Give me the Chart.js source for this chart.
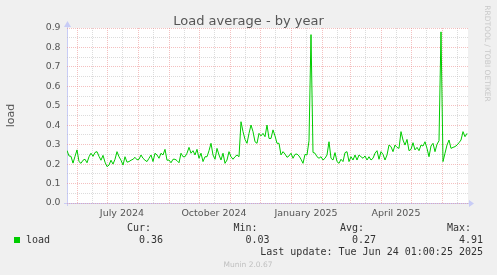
<!DOCTYPE html>
<html>
<head>
<meta charset="utf-8">
<script src="https://cdn.jsdelivr.net/npm/chart.js@4"></script>
<style>
  html, body { margin: 0; padding: 0; background: #f0f0f0; }
  canvas { display: block; }
</style>
</head>
<body>
<canvas id="load-year" width="497" height="275"></canvas>
<script>
const chartTitle = 'Load average - by year'
const yLabel = 'load'
const seriesName = 'load'
const startDate = '2024-05-22'
const sampleStep = 2   // days between samples
const xMaxDays = 401

// load average, one value every 2 days from startDate
const loadValues = [
  0.27, 0.242, 0.24, 0.205, 0.24, 0.273, 0.213, 0.204, 0.22, 0.225,
  0.207, 0.238, 0.256, 0.24, 0.26, 0.264, 0.24, 0.22, 0.245, 0.21,
  0.187, 0.195, 0.22, 0.2, 0.225, 0.264, 0.238, 0.22, 0.195, 0.238,
  0.21, 0.213, 0.22, 0.225, 0.235, 0.222, 0.225, 0.247, 0.23, 0.22,
  0.213, 0.23, 0.247, 0.213, 0.256, 0.247, 0.23, 0.256, 0.247, 0.276,
  0.22,
  0.221, 0.207, 0.225, 0.225, 0.218, 0.207, 0.256, 0.238, 0.238, 0.256,
  0.286, 0.256, 0.269, 0.247, 0.276, 0.23, 0.256, 0.213, 0.238, 0.238,
  0.269, 0.307, 0.247, 0.225, 0.281, 0.247, 0.221, 0.256, 0.204, 0.221,
  0.264, 0.238, 0.225, 0.238, 0.247, 0.238, 0.418, 0.367, 0.327, 0.307,
  0.358, 0.401, 0.367, 0.315, 0.307, 0.358, 0.345, 0.358, 0.341, 0.401,
  0.332,
  0.332, 0.376, 0.345, 0.307, 0.307, 0.247, 0.264, 0.252, 0.235, 0.242,
  0.256, 0.23, 0.25, 0.252, 0.242, 0.225, 0.204, 0.25, 0.247, 0.32,
  0.866, 0.26, 0.256, 0.238, 0.23, 0.238, 0.221, 0.23, 0.247, 0.315,
  0.23, 0.221, 0.259, 0.213, 0.204, 0.225, 0.213, 0.259, 0.264, 0.213,
  0.238, 0.221, 0.247, 0.221, 0.247, 0.238, 0.23, 0.242, 0.221, 0.238,
  0.221,
  0.23, 0.256, 0.269, 0.225, 0.264, 0.25, 0.221, 0.247, 0.298, 0.29,
  0.264, 0.298, 0.286, 0.281, 0.367, 0.324, 0.298, 0.327, 0.269, 0.276,
  0.31, 0.273, 0.286, 0.269, 0.298, 0.293, 0.315, 0.281, 0.238, 0.293,
  0.307, 0.264, 0.302, 0.32, 0.88, 0.213, 0.256, 0.298, 0.324, 0.281,
  0.286, 0.29, 0.298, 0.31, 0.324, 0.367, 0.341, 0.358
]

const yMin = 0
const yMax = 0.9
const yStep = 0.05

const labelDates = ['2024-07-16', '2024-10-16', '2025-01-16', '2025-04-16']
const labelTexts = ['July 2024', 'October 2024', 'January 2025', 'April 2025']

const statHeads = ['Cur:', 'Min:', 'Avg:', 'Max:']
const statValues = [0.36, 0.03, 0.27, 4.91]
const lastUpdate = 'Last update: Tue Jun 24 01:00:25 2025'
const footer = 'Munin 2.0.67'
const watermark = 'RRDTOOL / TOBI OETIKER'

const lineColor = '#00cc00'
const majorGrid = 'rgba(235, 140, 140, 0.55)'
const minorGrid = 'rgba(185, 185, 185, 0.5)'

function dayOf(d) {
    return (Date.parse(d) - Date.parse(startDate)) / 86400000
}

// month starts are the red lines, the 16th the grey ones
const xTicks = []
for (let m = 0; m < 14; m++) {
    const y = 2024 + Math.floor((4 + m) / 12)
    const mo = (4 + m) % 12
    const first = new Date(Date.UTC(y, mo, 1)).toISOString().slice(0, 10)
    const mid = new Date(Date.UTC(y, mo, 16)).toISOString().slice(0, 10)
    ;[[first, true], [mid, false]].forEach(([iso, major]) => {
        const v = dayOf(iso)
        if (v <= 0 || v >= xMaxDays) return
        const li = labelDates.indexOf(iso)
        xTicks.push({ value: v, major, label: li >= 0 ? labelTexts[li] : '' })
    })
}

const points = loadValues.map((v, i) => ({ x: i * sampleStep, y: v }))

const muninDeco = {
    id: 'muninDeco',
    beforeDraw(chart) {
        const { ctx, chartArea: a } = chart
        ctx.save()
        ctx.fillStyle = '#f0f0f0'
        ctx.fillRect(0, 0, chart.width, chart.height)
        ctx.fillStyle = '#ffffff'
        ctx.fillRect(a.left, a.top, a.right - a.left, a.bottom - a.top)

        // axes with arrow heads
        ctx.strokeStyle = '#c8ccf6'
        ctx.lineWidth = 1
        ctx.beginPath()
        ctx.moveTo(a.left - 3, a.bottom + 0.5)
        ctx.lineTo(a.right + 2, a.bottom + 0.5)
        ctx.moveTo(a.left + 0.5, a.bottom + 3)
        ctx.lineTo(a.left + 0.5, a.top - 2)
        ctx.stroke()
        ctx.fillStyle = '#c8ccf6'
        ctx.beginPath()
        ctx.moveTo(a.right + 1, a.bottom - 3)
        ctx.lineTo(a.right + 6, a.bottom + 0.5)
        ctx.lineTo(a.right + 1, a.bottom + 4)
        ctx.fill()
        ctx.beginPath()
        ctx.moveTo(a.left - 3, a.top - 1)
        ctx.lineTo(a.left + 0.5, a.top - 7)
        ctx.lineTo(a.left + 4, a.top - 1)
        ctx.fill()
        ctx.restore()
    },
    afterDraw(chart) {
        const { ctx, chartArea: a } = chart
        ctx.save()
        ctx.fillStyle = '#555'
        ctx.font = '13px "DejaVu Sans"'
        ctx.textAlign = 'center'
        ctx.textBaseline = 'alphabetic'
        ctx.fillText(chartTitle, chart.width / 2, 25)

        // y axis title
        ctx.save()
        ctx.font = '11px "DejaVu Sans"'
        ctx.translate(14, (a.top + a.bottom) / 2)
        ctx.rotate(-Math.PI / 2)
        ctx.fillText(yLabel, 0, 0)
        ctx.restore()

        // watermark on the right
        ctx.save()
        ctx.fillStyle = '#c8c8c8'
        ctx.font = '7.5px "DejaVu Sans"'
        ctx.translate(485, 53.5)
        ctx.rotate(Math.PI / 2)
        ctx.fillText(watermark, 0, 0)
        ctx.restore()

        // legend
        ctx.fillStyle = lineColor
        ctx.fillRect(14, 237, 6, 6)
        ctx.font = '10px "DejaVu Sans Mono"'
        ctx.fillStyle = '#333'
        ctx.textAlign = 'left'
        ctx.fillText(seriesName, 26, 243)
        const rights = [163, 269.5, 376, 483]
        ctx.textAlign = 'right'
        statHeads.forEach((h, i) => {
            ctx.fillText(h, rights[i] - 12, 231)
            ctx.fillText(statValues[i].toFixed(2), rights[i], 243)
        })
        ctx.fillText(lastUpdate, 483, 255)

        ctx.fillStyle = '#c0c0c0'
        ctx.font = '7.5px "DejaVu Sans"'
        ctx.textAlign = 'center'
        ctx.fillText(footer, 248, 266.5)
        ctx.restore()
    }
}

new Chart(document.getElementById('load-year'), {
    type: 'line',
    data: {
        datasets: [{
            label: seriesName,
            data: points,
            borderColor: lineColor,
            borderWidth: 1,
            pointRadius: 0,
            tension: 0,
            fill: false
        }]
    },
    options: {
        responsive: false,
        animation: false,
        devicePixelRatio: 1,
        layout: { padding: { top: 28, right: 29, left: 0, bottom: 0 } },
        plugins: {
            legend: { display: false },
            tooltip: { enabled: false },
            title: { display: false }
        },
        scales: {
            x: {
                type: 'linear',
                min: 0,
                max: xMaxDays,
                afterFit: s => { s.height = 72 },
                afterBuildTicks: s => { s.ticks = xTicks.map(t => ({ value: t.value })) },
                border: { display: false, dash: [1, 1] },
                grid: {
                    color: c => (xTicks[c.index] && xTicks[c.index].major) ? majorGrid : minorGrid,
                    lineWidth: 1,
                    drawTicks: false
                },
                ticks: {
                    autoSkip: false,
                    maxRotation: 0,
                    padding: 5,
                    color: '#555',
                    font: { family: 'DejaVu Sans', size: 9.5 },
                    callback: (v, i) => xTicks[i] ? xTicks[i].label : ''
                }
            },
            y: {
                min: yMin,
                max: yMax,
                afterFit: s => { s.width = 67 },
                border: { display: false, dash: [1, 1] },
                grid: {
                    color: c => Math.round(c.tick.value / yStep) % 2 === 0 ? majorGrid : minorGrid,
                    lineWidth: 1,
                    drawTicks: false
                },
                ticks: {
                    stepSize: yStep,
                    autoSkip: false,
                    padding: 6.5,
                    color: '#555',
                    font: { family: 'DejaVu Sans', size: 9.3 },
                    callback: v => Math.round(v / yStep) % 2 === 0 ? v.toFixed(1) : ''
                }
            }
        }
    },
    plugins: [muninDeco]
})
</script>
</body>
</html>
